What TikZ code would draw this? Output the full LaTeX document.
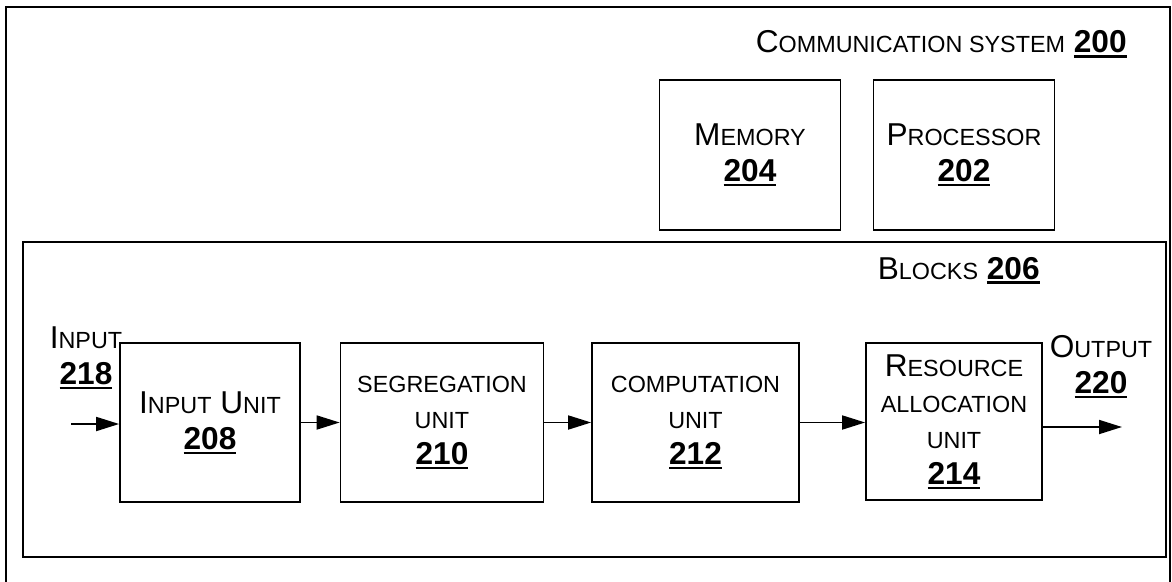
\documentclass[tikz,border=0pt]{standalone}
\usepackage{fontspec}
\setmainfont{Liberation Sans}
\usetikzlibrary{arrows.meta}

% small letters of the fake small caps
\newcommand{\sml}[1]{{\fontsize{13.3}{20.5}\selectfont #1}}
% bold underlined reference number
\newcommand{\refnum}[1]{\setbox0\hbox{\bfseries #1}\rlap{\rule[-2.6pt]{\wd0}{1.2pt}}\box0}

\begin{document}
\begin{tikzpicture}[x=0.02cm,y=-0.02cm,
  >={Triangle[length=0.46cm,width=0.28cm]},
  txt/.style={font=\fontsize{18}{20.5}\selectfont, inner sep=0pt, align=center},
  unitbox/.style={txt, draw, line width=1pt, minimum height=3.18cm},
  topbox/.style={txt, draw, line width=1pt, minimum width=3.62cm, minimum height=3cm},
  flow/.style={->, line width=1pt}]

\clip (0,0) rectangle (1172,581);
\draw[line width=1pt] (6,7) rectangle (1170,600);

\node [txt, anchor=base east] (commlbl) at (1127,53) {C\sml{OMMUNICATION SYSTEM} \refnum{200}};

\node [topbox] (memory) at (750,155) {M\sml{EMORY}\\\refnum{204}};
\node [topbox] (processor) at (964,155) {P\sml{ROCESSOR}\\\refnum{202}};

\node [draw, line width=1pt, minimum width=22.86cm, minimum height=6.3cm] (blocks) at (594.5,399.5) {};
\node [txt, anchor=base east] (blockslbl) at (1040,279) {B\sml{LOCKS} \refnum{206}};

\node [unitbox, minimum width=3.6cm] (inunit) at (210,422.5) {I\sml{NPUT} U\sml{NIT}\\\refnum{208}};
\node [unitbox, minimum width=4.06cm] (segunit) at (442,422.5) {\sml{SEGREGATION}\\\sml{UNIT}\\\refnum{210}};
\node [unitbox, minimum width=4.14cm] (compunit) at (695.5,422.5) {\sml{COMPUTATION}\\\sml{UNIT}\\\refnum{212}};
\node [unitbox, minimum width=3.52cm, minimum height=3.14cm] (resunit) at (954,421.5) {R\sml{ESOURCE}\\\sml{ALLOCATION}\\\sml{UNIT}\\\refnum{214}};

\node [txt] (inlbl) at (86,358) {I\sml{NPUT}\\\refnum{218}};
\node [txt] (outlbl) at (1101,367) {O\sml{UTPUT}\\\refnum{220}};

\coordinate (in) at (71,424);
\coordinate (out) at (1122,427);

\draw[flow] (in) -- (in -| inunit.west);
\draw[flow] (inunit) -- (segunit);
\draw[flow] (segunit) -- (compunit);
\draw[flow] (compunit.east) -- (compunit.east -| resunit.west);
\draw[flow] (resunit.east |- out) -- (out);

\end{tikzpicture}
\end{document}
